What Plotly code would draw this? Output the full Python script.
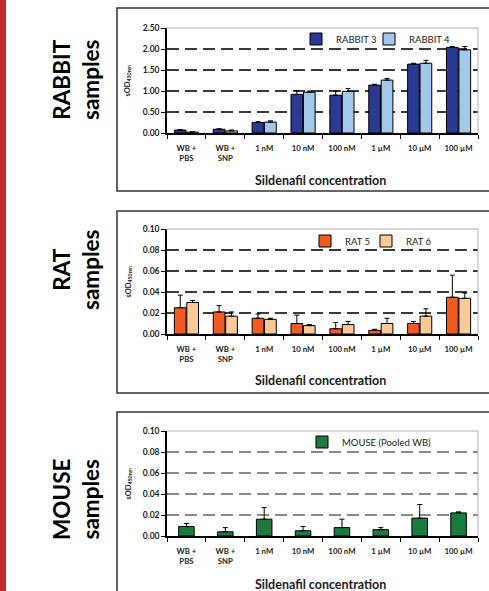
import plotly.graph_objects as go

W, H = 489, 591

categories = ["WB +<br>PBS", "WB +<br>SNP", "1 nM", "10 nM", "100 nM", "1 µM", "10 µM", "100 µM"]

rabbit3 = [0.07, 0.09, 0.25, 0.92, 0.90, 1.14, 1.64, 2.04]
rabbit3_err = [0.01, 0.01, 0.02, 0.09, 0.10, 0.02, 0.02, 0.02]
rabbit4 = [0.02, 0.05, 0.26, 0.97, 0.99, 1.26, 1.66, 1.98]
rabbit4_err = [0.01, 0.02, 0.03, 0.03, 0.07, 0.04, 0.07, 0.08]

rat5 = [0.025, 0.021, 0.015, 0.010, 0.005, 0.0035, 0.010, 0.035]
rat5_err = [0.012, 0.006, 0.004, 0.008, 0.006, 0.001, 0.002, 0.021]
rat6 = [0.030, 0.017, 0.014, 0.008, 0.009, 0.010, 0.017, 0.034]
rat6_err = [0.002, 0.004, 0.001, 0.001, 0.003, 0.005, 0.007, 0.005]

mouse = [0.009, 0.004, 0.016, 0.005, 0.008, 0.006, 0.017, 0.022]
mouse_err = [0.003, 0.004, 0.011, 0.004, 0.008, 0.002, 0.013, 0.001]

rabbit_ticks = [0.0, 0.5, 1.0, 1.5, 2.0, 2.5]
small_ticks = [0.0, 0.02, 0.04, 0.06, 0.08, 0.10]

FONT = "Lato"


def px(p):
    return p / W


def py(p):
    return 1 - p / H


def err(arr):
    return dict(type="data", symmetric=False, array=arr, arrayminus=[0] * len(arr),
                color="black", thickness=1, width=2.5)


fig = go.Figure()

fig.add_trace(go.Bar(x=categories, y=rabbit3, name="RABBIT 3", marker=dict(color="#2b3990", line=dict(color="black", width=1)),
                     error_y=err(rabbit3_err), xaxis="x", yaxis="y", legend="legend"))
fig.add_trace(go.Bar(x=categories, y=rabbit4, name="RABBIT 4", marker=dict(color="#a3c8ea", line=dict(color="black", width=1)),
                     error_y=err(rabbit4_err), xaxis="x", yaxis="y", legend="legend2"))
fig.add_trace(go.Bar(x=categories, y=rat5, name="RAT 5", marker=dict(color="#f15a22", line=dict(color="black", width=1)),
                     error_y=err(rat5_err), xaxis="x2", yaxis="y2", legend="legend3"))
fig.add_trace(go.Bar(x=categories, y=rat6, name="RAT 6", marker=dict(color="#fbc997", line=dict(color="black", width=1)),
                     error_y=err(rat6_err), xaxis="x2", yaxis="y2", legend="legend4"))
fig.add_trace(go.Bar(x=categories, y=mouse, name="MOUSE (Pooled WB)", marker=dict(color="#1a7b3e", line=dict(color="black", width=1)),
                     error_y=err(mouse_err), xaxis="x3", yaxis="y3", legend="legend5", width=0.4))

xd = [px(167), px(478)]
panels = [
    ("", 28, 133, [0, 2.5], rabbit_ticks, "#3a3a3a"),
    ("2", 229, 334, [0, 0.10], small_ticks, "#3a3a3a"),
    ("3", 431, 536, [0, 0.10], small_ticks, "#8a8a8a"),
]

tickfont = dict(family=FONT, size=8.5, color="#222", weight="bold")
catfont = dict(family=FONT, size=7.8, color="#222", weight="bold")

shapes = []
layout_axes = {}
for suf, top, bot, rng, ticks, gcol in panels:
    layout_axes["xaxis" + suf] = dict(
        domain=xd, anchor="y" + suf, type="category", showline=True, linecolor="black", linewidth=1.5,
        ticks="outside", tickson="boundaries", ticklen=4, tickcolor="black", tickwidth=1.2,
        tickfont=catfont, showgrid=False, zeroline=False, fixedrange=True, ticklabelstandoff=7,
    )
    layout_axes["yaxis" + suf] = dict(
        domain=[py(bot), py(top)], anchor="x" + suf, range=rng, tickvals=ticks, tickformat=".2f",
        showline=True, linecolor="black", linewidth=1.5, ticks="outside", ticklen=4, tickcolor="black",
        tickwidth=1.2, tickfont=tickfont, showgrid=False, zeroline=False, fixedrange=True,
    )
    for t in ticks[1:-1]:
        shapes.append(dict(type="line", xref=f"x{suf} domain", yref=f"y{suf}", x0=0, x1=1, y0=t, y1=t,
                           line=dict(color=gcol, width=1.8, dash="12px,6px"), layer="below"))
    shapes.append(dict(type="line", xref=f"x{suf} domain", yref=f"y{suf} domain", x0=0, x1=1, y0=1, y1=1,
                       line=dict(color="#b0b0b0", width=1), layer="below"))
    shapes.append(dict(type="line", xref=f"x{suf} domain", yref=f"y{suf} domain", x0=1, x1=1, y0=0, y1=1,
                       line=dict(color="#b0b0b0", width=1), layer="below"))

for top, bot in [(8, 191), (211, 393), (412, 620)]:
    shapes.append(dict(type="rect", xref="paper", yref="paper", x0=px(117), x1=px(500), y0=py(bot), y1=py(top),
                       line=dict(color="#333", width=1.5), fillcolor="rgba(0,0,0,0)"))
shapes.append(dict(type="rect", xref="paper", yref="paper", x0=0, x1=px(6), y0=0, y1=1,
                   line=dict(width=0), fillcolor="#c1272d"))

annotations = []
for yc in [180, 380, 584]:
    annotations.append(dict(text="Sildenafil concentration", xref="paper", yref="paper", x=px(320), y=py(yc),
                            showarrow=False, xanchor="center", yanchor="middle",
                            font=dict(family=FONT, size=12.5, color="#1a1a1a", weight="bold")))
for top, bot in [(28, 133), (229, 334), (431, 536)]:
    annotations.append(dict(text="sOD<sub>450nm</sub>", xref="paper", yref="paper", x=px(128), y=py((top + bot) / 2),
                            showarrow=False, textangle=-90, xanchor="center", yanchor="middle",
                            font=dict(family=FONT, size=7.5, color="#222", weight="bold")))
for label, yc in [("RABBIT<br>samples", 80), ("RAT<br>samples", 270), ("MOUSE<br>samples", 500)]:
    annotations.append(dict(text=label, xref="paper", yref="paper", x=px(76), y=py(yc),
                            showarrow=False, textangle=-90, xanchor="center", yanchor="middle",
                            font=dict(family=FONT, size=22.5, color="black", weight="bold")))

legfont = dict(family=FONT, size=9.5, color="#222")
legcommon = dict(orientation="h", xanchor="left", yanchor="middle", font=legfont,
                 bgcolor="rgba(0,0,0,0)", itemwidth=30)
fig.update_layout(
    width=W, height=H, margin=dict(l=0, r=0, t=0, b=0, autoexpand=False),
    paper_bgcolor="white", plot_bgcolor="white",
    barmode="group", bargap=0.36, bargroupgap=0.06,
    showlegend=True,
    legend=dict(x=px(296), y=py(39), **legcommon),
    legend2=dict(x=px(369), y=py(39), **legcommon),
    legend3=dict(x=px(305), y=py(241), **legcommon),
    legend4=dict(x=px(366), y=py(241), **legcommon),
    legend5=dict(x=px(302), y=py(442), **legcommon),
    shapes=shapes, annotations=annotations,
    **layout_axes,
)

fig.write_html("out.html", config={"displayModeBar": False},
               post_script="document.body.style.margin='0px';document.body.style.overflow='hidden';")
